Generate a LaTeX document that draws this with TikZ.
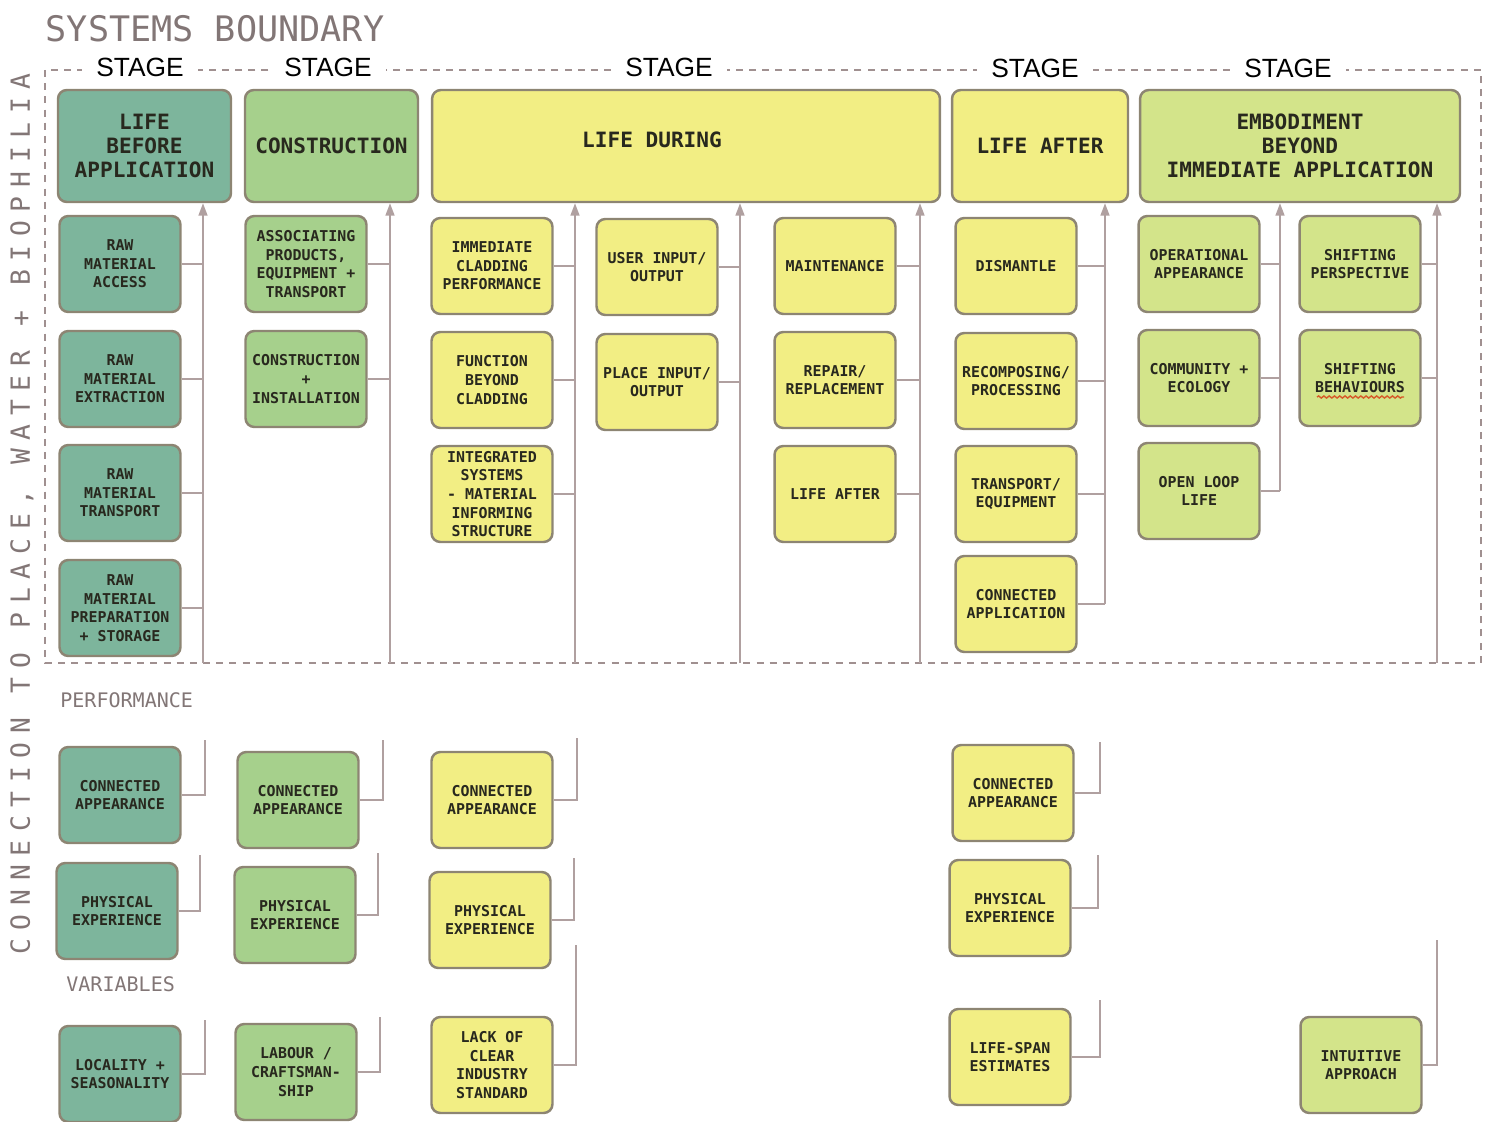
\documentclass[tikz,border=0pt]{standalone}
\usepackage{fontspec}
\usepackage{xcolor}
\usetikzlibrary{arrows.meta,decorations.pathmorphing}

\newfontfamily\dvmono{DejaVu Sans Mono}
\newfontfamily\sidefont[LetterSpace=33]{DejaVu Sans Mono}
\newfontfamily\stagefont{Liberation Sans}

\definecolor{tealbox}{RGB}{125,181,156}
\definecolor{greenbox}{RGB}{166,208,140}
\definecolor{yellowbox}{RGB}{242,238,132}
\definecolor{limebox}{RGB}{211,228,138}
\definecolor{boxline}{RGB}{141,133,115}
\definecolor{boxtext}{RGB}{40,40,30}
\definecolor{linkline}{RGB}{176,160,160}
\definecolor{dashline}{RGB}{160,144,144}
\definecolor{greytext}{RGB}{130,118,118}
\definecolor{spellred}{RGB}{214,90,40}

\tikzset{
  cell/.style={draw=boxline, line width=1.4pt, rounded corners=5pt, align=center,
    text=boxtext, inner sep=1pt, minimum width=2.42cm, minimum height=1.92cm,
    font=\dvmono\bfseries\fontsize{8.5}{10.6}\selectfont},
  head/.style={cell, minimum height=2.24cm, font=\dvmono\bfseries\fontsize{12}{13.6}\selectfont},
  teal/.style={fill=tealbox},
  green/.style={fill=greenbox},
  yellow/.style={fill=yellowbox},
  lime/.style={fill=limebox},
  link/.style={draw=linkline, line width=1.1pt},
  uplink/.style={link, -{Triangle[length=7pt,width=5pt]}},
  boundary/.style={draw=dashline, line width=1.6pt, dash pattern=on 4pt off 3.5pt},
  stage/.style={fill=white, inner xsep=8pt, inner ysep=2pt, font=\stagefont\fontsize{15}{16}\selectfont},
  note/.style={text=greytext, anchor=west, inner sep=0pt, font=\dvmono\fontsize{11.4}{12}\selectfont}
}

\begin{document}
\begin{tikzpicture}[x=0.02cm, y=-0.02cm]
\useasboundingbox (0,0) rectangle (1491,1122);

% boundary and titles
\draw[boundary] (45,70) rectangle (1481,663);
\node[text=greytext, font=\dvmono\fontsize{20}{22}\selectfont] (sysb) at (215,29) {SYSTEMS BOUNDARY};
\node[stage] (st1) at (140,67) {STAGE};
\node[stage] (st2) at (328,67) {STAGE};
\node[stage] (st3) at (669,67) {STAGE};
\node[stage] (st4) at (1035,68) {STAGE};
\node[stage] (st5) at (1288,68) {STAGE};
\node[text=greytext, rotate=90, font=\sidefont\fontsize{15}{16}\selectfont] (conn) at (22,514) {CONNECTION TO PLACE, WATER + BIOPHILIA};

% stage headers
\node[head, teal, minimum width=3.46cm] (before) at (144.5,146) {LIFE\\BEFORE\\APPLICATION};
\node[head, green, minimum width=3.46cm] (constr) at (331.5,146) {CONSTRUCTION};
\node[head, yellow, minimum width=10.16cm] (during) at (686,146) {};
\node[font=\dvmono\bfseries\fontsize{12}{13.6}\selectfont, text=boxtext] (duringtxt) at (652,140) {LIFE DURING};
\node[head, yellow, minimum width=3.52cm] (after) at (1040,146) {LIFE AFTER};
\node[head, lime, minimum width=6.4cm] (embody) at (1300,146) {EMBODIMENT\\BEYOND\\IMMEDIATE APPLICATION};

% life before application
\node[cell, teal] (rma) at (120,264) {RAW\\MATERIAL\\ACCESS};
\node[cell, teal] (rme) at (120,379) {RAW\\MATERIAL\\EXTRACTION};
\node[cell, teal] (rmt) at (120,493) {RAW\\MATERIAL\\TRANSPORT};
\node[cell, teal] (rmp) at (120,608) {RAW\\MATERIAL\\PREPARATION\\+ STORAGE};

% construction
\node[cell, green] (assoc) at (306,264) {ASSOCIATING\\PRODUCTS,\\EQUIPMENT +\\TRANSPORT};
\node[cell, green] (install) at (306,379) {CONSTRUCTION\\+\\INSTALLATION};

% life during
\node[cell, yellow] (icp) at (492,266) {IMMEDIATE\\CLADDING\\PERFORMANCE};
\node[cell, yellow] (fbc) at (492,380) {FUNCTION\\BEYOND\\CLADDING};
\node[cell, yellow] (ism) at (492,494) {INTEGRATED\\SYSTEMS\\- MATERIAL\\INFORMING\\STRUCTURE};
\node[cell, yellow] (uio) at (657,267) {USER INPUT/\\OUTPUT};
\node[cell, yellow] (pio) at (657,382) {PLACE INPUT/\\OUTPUT};
\node[cell, yellow] (maint) at (835,266) {MAINTENANCE};
\node[cell, yellow] (repair) at (835,380) {REPAIR/\\REPLACEMENT};
\node[cell, yellow] (lafter) at (835,494) {LIFE AFTER};

% life after
\node[cell, yellow] (dism) at (1016,266) {DISMANTLE};
\node[cell, yellow] (recomp) at (1016,381) {RECOMPOSING/\\PROCESSING};
\node[cell, yellow] (transp) at (1016,494) {TRANSPORT/\\EQUIPMENT};
\node[cell, yellow] (capp) at (1016,604) {CONNECTED\\APPLICATION};

% embodiment
\node[cell, lime] (opapp) at (1199,264) {OPERATIONAL\\APPEARANCE};
\node[cell, lime] (comm) at (1199,378) {COMMUNITY +\\ECOLOGY};
\node[cell, lime] (oloop) at (1199,491) {OPEN LOOP\\LIFE};
\node[cell, lime] (spersp) at (1360,264) {SHIFTING\\PERSPECTIVE};
\node[cell, lime] (sbehav) at (1360,378) {SHIFTING\\BEHAVIOURS};
\draw[spellred, line width=0.8pt, decorate, decoration={snake, amplitude=0.6pt, segment length=3pt}]
  (1317,397) -- (1404,397);

% vertical links into the headers
\coordinate (v1) at (203,663);
\coordinate (v2) at (390,663);
\coordinate (v3) at (575,663);
\coordinate (v4) at (740,663);
\coordinate (v5) at (920,663);
\coordinate (v6) at (1105,604);
\coordinate (v7) at (1280,491);
\coordinate (v8) at (1437,663);
\draw[uplink] (v1) -- (v1 |- before.south);
\draw[uplink] (v2) -- (v2 |- constr.south);
\draw[uplink] (v3) -- (v3 |- during.south);
\draw[uplink] (v4) -- (v4 |- during.south);
\draw[uplink] (v5) -- (v5 |- during.south);
\draw[uplink] (v6) -- (v6 |- after.south);
\draw[uplink] (v7) -- (v7 |- embody.south);
\draw[uplink] (v8) -- (v8 |- embody.south);

\foreach \n in {rma,rme,rmt,rmp} \draw[link] (\n.east) -- (\n.east -| v1);
\foreach \n in {assoc,install} \draw[link] (\n.east) -- (\n.east -| v2);
\foreach \n in {icp,fbc,ism} \draw[link] (\n.east) -- (\n.east -| v3);
\foreach \n in {uio,pio} \draw[link] (\n.east) -- (\n.east -| v4);
\foreach \n in {maint,repair,lafter} \draw[link] (\n.east) -- (\n.east -| v5);
\foreach \n in {dism,recomp,transp,capp} \draw[link] (\n.east) -- (\n.east -| v6);
\foreach \n in {opapp,comm,oloop} \draw[link] (\n.east) -- (\n.east -| v7);
\foreach \n in {spersp,sbehav} \draw[link] (\n.east) -- (\n.east -| v8);

% performance and variables
\node[note] (perf) at (60,700) {PERFORMANCE};
\node[note] (vars) at (66,984) {VARIABLES};

\node[cell, teal] (tca) at (120,795) {CONNECTED\\APPEARANCE};
\node[cell, teal] (tpe) at (117,911) {PHYSICAL\\EXPERIENCE};
\node[cell, teal] (tloc) at (120,1074) {LOCALITY +\\SEASONALITY};
\node[cell, green] (gca) at (298,800) {CONNECTED\\APPEARANCE};
\node[cell, green] (gpe) at (295,915) {PHYSICAL\\EXPERIENCE};
\node[cell, green] (glab) at (296,1072) {LABOUR /\\CRAFTSMAN-\\SHIP};
\node[cell, yellow] (yca) at (492,800) {CONNECTED\\APPEARANCE};
\node[cell, yellow] (ype) at (490,920) {PHYSICAL\\EXPERIENCE};
\node[cell, yellow] (ylack) at (492,1065) {LACK OF\\CLEAR\\INDUSTRY\\STANDARD};
\node[cell, yellow] (aca) at (1013,793) {CONNECTED\\APPEARANCE};
\node[cell, yellow] (ape) at (1010,908) {PHYSICAL\\EXPERIENCE};
\node[cell, yellow] (alife) at (1010,1057) {LIFE-SPAN\\ESTIMATES};
\node[cell, lime] (intu) at (1361,1065) {INTUITIVE\\APPROACH};

\coordinate (tca1) at (205,740);
\coordinate (tpe1) at (200,855);
\coordinate (tloc1) at (205,1020);
\coordinate (gca1) at (383,740);
\coordinate (gpe1) at (378,853);
\coordinate (glab1) at (380,1017);
\coordinate (yca1) at (577,738);
\coordinate (ype1) at (574,858);
\coordinate (ylack1) at (576,945);
\coordinate (aca1) at (1100,742);
\coordinate (ape1) at (1098,855);
\coordinate (alife1) at (1100,1000);
\coordinate (intu1) at (1437,940);
\foreach \n in {tca,tpe,tloc,gca,gpe,glab,yca,ype,ylack,aca,ape,alife,intu}
  \draw[link] (\n.east) -| (\n1);
\end{tikzpicture}
\end{document}
